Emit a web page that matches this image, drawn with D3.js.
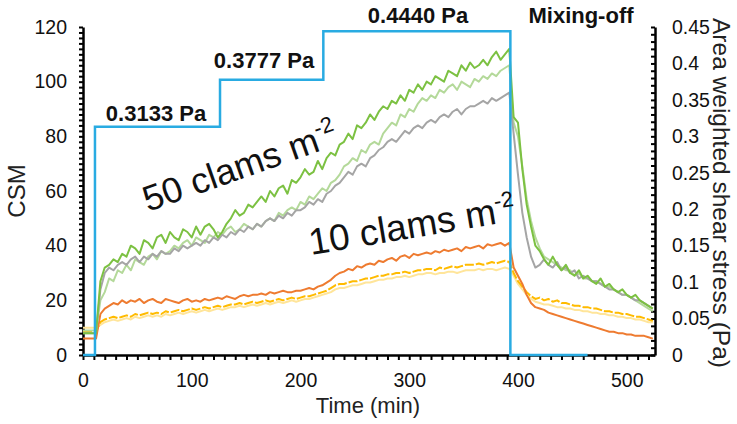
<!DOCTYPE html>
<html>
<head>
<meta charset="utf-8">
<script src="https://d3js.org/d3.v7.min.js"></script>
<style>
    body { margin: 0; background: #fff; }
    text { font-family: "Liberation Sans", Arial, sans-serif; }
</style>
</head>
<body>
<script>
//
// DATA: time (min), CSM series, shear steps
const TIME = [
    0, 4, 8, 12, 16, 20, 24, 28, 32, 36,
    40, 44, 48, 52, 56, 60, 64, 68, 72, 76,
    80, 84, 88, 92, 96, 100, 104, 108, 112, 116,
    120, 124, 128, 132, 136, 140, 144, 148, 152, 156,
    160, 164, 168, 172, 176, 180, 184, 188, 192, 196,
    200, 204, 208, 212, 216, 220, 224, 228, 232, 236,
    240, 244, 248, 252, 256, 260, 264, 268, 272, 276,
    280, 284, 288, 292, 296, 300, 304, 308, 312, 316,
    320, 324, 328, 332, 336, 340, 344, 348, 352, 356,
    360, 364, 368, 372, 376, 380, 384, 388, 392, 396,
    400, 404, 408, 412, 416, 420, 424, 428, 432, 436,
    440, 444, 448, 452, 456, 460, 464, 468, 472, 476,
    480, 484, 488, 492, 496, 500, 504, 508, 512, 516,
    520, 524
];
const CSM_50_A = [
    8, 8, 8, 8, 27, 32, 33, 35, 34, 37,
    36, 40, 39, 37, 42, 41, 39, 43, 44, 41,
    45, 43, 42, 46, 45, 43, 47, 44, 47, 48,
    46, 43, 45, 48, 50, 53, 51, 52, 55, 54,
    56, 58, 56, 60, 58, 61, 62, 59, 64, 63,
    65, 68, 66, 67, 71, 68, 72, 74, 73, 77,
    78, 81, 79, 84, 83, 85, 88, 86, 89, 91,
    90, 93, 92, 95, 93, 97, 96, 99, 97, 100,
    99, 102, 101, 100, 104, 103, 102, 106, 104, 107,
    105, 106, 108, 106, 109, 111, 108, 110, 112, 87,
    85, 68, 55, 47, 40, 38, 35, 33, 36, 33,
    31, 33, 30, 29, 31, 28, 29, 27, 26, 28,
    25, 26, 24, 23, 24, 22, 21, 22, 20, 19,
    18, 17
];
const CSM_50_B = [
    9, 9, 9, 9, 20, 23, 28, 27, 31, 30,
    33, 31, 35, 34, 33, 36, 37, 35, 38, 37,
    38, 40, 39, 41, 42, 40, 43, 42, 41, 44,
    43, 45, 44, 46, 47, 45, 46, 48, 47, 46,
    48, 47, 49, 50, 49, 52, 51, 53, 54, 53,
    56, 55, 58, 57, 59, 61, 60, 63, 64, 66,
    69, 70, 72, 71, 75, 74, 77, 78, 77, 81,
    83, 85, 84, 88, 87, 90, 89, 92, 94, 93,
    95, 94, 97, 96, 98, 99, 97, 100, 99, 98,
    101, 100, 102, 101, 103, 102, 104, 105, 106, 85,
    80, 69, 57, 49, 43, 39, 36, 35, 34, 33,
    32, 31, 31, 29, 30, 28, 28, 27, 27, 26,
    25, 25, 24, 23, 22, 22, 21, 20, 19, 18,
    17, 16
];
const CSM_50_C = [
    8, 8, 8, 8, 24, 30, 32, 31, 33, 34,
    33, 35, 36, 34, 36, 35, 37, 36, 38, 37,
    37, 39, 38, 40, 39, 40, 41, 40, 42, 41,
    43, 42, 44, 43, 45, 44, 46, 45, 47, 46,
    48, 47, 49, 50, 49, 51, 50, 52, 51, 53,
    53, 54, 56, 55, 57, 56, 59, 60, 62, 63,
    65, 67, 66, 69, 70, 69, 72, 73, 75, 76,
    78, 79, 78, 80, 82, 81, 83, 84, 83, 85,
    86, 85, 87, 88, 87, 89, 90, 88, 90, 91,
    91, 92, 93, 92, 94, 93, 94, 95, 96, 81,
    66, 52, 43, 36, 32, 33, 35, 33, 32, 34,
    31, 32, 30, 31, 28, 29, 28, 27, 27, 26,
    25, 24, 24, 23, 22, 22, 21, 20, 20, 19,
    18, 17
];
const CSM_10_A = [
    6, 6, 6, 6, 15, 17, 18, 19, 18.5, 20,
    19, 20, 19.5, 20.5, 19, 20, 20.5, 19.5, 19, 20.5,
    20, 19.5, 19, 20, 20.5, 19.5, 20, 19.5, 20.5, 20,
    20.5, 21, 20.5, 21.5, 21, 20.5, 21.5, 22, 21.5, 22,
    22, 22.5, 22, 23, 22.5, 23, 23.5, 23, 23, 23.5,
    23.5, 24, 24.5, 24, 25, 25.5, 26.5, 27.5, 29, 30,
    30.5, 31.5, 31, 32.5, 32, 33, 33.5, 33, 34.5, 34,
    35, 35.5, 34.5, 36, 36.5, 35.5, 37, 36.5, 37, 37.5,
    37, 38, 37.5, 38.5, 38, 38.5, 39, 38, 39.5, 39,
    39.5, 40, 39, 40.5, 40, 40.5, 41, 40, 41, 32,
    29, 26, 22, 19, 17.5, 17, 16.5, 15.5, 15, 14.5,
    14, 13.5, 13, 12.5, 12, 11.5, 11, 10.5, 10, 9.5,
    9, 8.5, 8.5, 8, 8, 7.5, 7.5, 7, 7, 7,
    6.5, 6
];
const CSM_10_B = [
    8.5, 8.5, 8.5, 8.5, 12, 13, 13.5, 14, 13.5, 14,
    14.5, 14, 15, 14.5, 15, 15.5, 15, 15.5, 15, 16,
    15.5, 16, 16.5, 16, 16.5, 17, 16.5, 17, 17.5, 17,
    17.5, 18, 17.5, 18, 18.5, 18.5, 19, 18.5, 19, 19.5,
    19, 19.5, 20, 19.5, 20, 20.5, 20, 20.5, 21, 20.5,
    21, 21.5, 21.5, 22, 22.5, 23, 23.5, 24.5, 25.5, 26,
    26, 26.5, 27, 27, 27.5, 28, 28, 28.5, 29, 29,
    29.5, 29.5, 30, 30, 30.5, 30, 30.5, 31, 31, 31.5,
    31.5, 31, 32, 31.5, 32, 32.5, 32, 32.5, 33, 33,
    33, 33.5, 33, 33.5, 34, 33.5, 34, 34.5, 34, 30,
    27, 25, 23, 21.5, 20.5, 21, 20, 20.5, 19.5, 20,
    19, 19, 18.5, 18, 18, 17.5, 17.5, 17, 17, 16.5,
    16, 16, 15.5, 15.5, 15, 15, 14.5, 14, 14, 13.5,
    13, 12.5
];
const CSM_10_C = [
    10, 10, 10, 10, 11, 12, 12.5, 13, 12.5, 13,
    13.5, 13, 14, 13.5, 14, 14.5, 14, 14.5, 14, 15,
    14.5, 15, 15.5, 15, 15.5, 16, 15.5, 16, 16.5, 16,
    16.5, 17, 16.5, 17, 17.5, 17.5, 18, 17.5, 18, 18.5,
    18, 18.5, 19, 18.5, 19, 19.5, 19, 19.5, 20, 19.5,
    20, 20.5, 20.5, 21, 21.5, 22, 22.5, 23, 24, 24.5,
    24.5, 25, 25.5, 25.5, 26, 26.5, 26.5, 27, 27.5, 27.5,
    28, 28, 28.5, 28.5, 29, 28.5, 29, 29.5, 29.5, 30,
    30, 29.5, 30, 30, 30.5, 30.5, 30, 30.5, 31, 31,
    31, 31.5, 31, 31.5, 31.5, 31, 31.5, 32, 31.5, 29,
    26, 24, 22, 20.5, 19.5, 19, 18.5, 18.5, 18, 17.5,
    17.5, 17, 17, 16.5, 16.5, 16, 16, 15.5, 15.5, 15,
    15, 14.5, 14.5, 14, 14, 13.5, 13.5, 13, 13, 12.5,
    12, 12
];
const SHEAR_TIME = [0, 11, 126, 221, 393, 464];
const SHEAR_PA = [0, 0.3133, 0.3777, 0.4440, 0, 0];
const SHEAR_LABELS = ['0.3133 Pa', '0.3777 Pa', '0.4440 Pa', 'Mixing-off'];
const CSM_TICKS = [0, 20, 40, 60, 80, 100, 120];
const TIME_TICKS = [0, 100, 200, 300, 400, 500];
const PA_TICKS = ['0', '0.05', '0.1', '0.15', '0.2', '0.25', '0.3', '0.35', '0.4', '0.45'];

window.addEventListener('load', function () {
    //
    // SIZE
    const WIDTH = 737;
    const HEIGHT = 424;
    const LEFT = 83, RIGHT = 655, TOP = 27, BOTTOM = 355;

    let svg = d3.select('body').append('svg')
        .attr('width', WIDTH)
        .attr('height', HEIGHT);

    //
    // SCALES
    let x = d3.scaleLinear().domain([0, 526]).range([LEFT, RIGHT]);
    let y = d3.scaleLinear().domain([0, 120]).range([BOTTOM, TOP]);
    let y2 = d3.scaleLinear().domain([0, 0.45]).range([BOTTOM, TOP]);

    //
    // AXES
    function styleAxis(g) {
        g.select('.domain').attr('stroke', '#000').attr('stroke-width', 2.5);
        g.selectAll('.tick line').attr('stroke', '#000').attr('stroke-width', 2);
        g.selectAll('.tick text').attr('fill', '#111').style('font-size', '19.5px');
    }

    svg.append('g')
        .attr('transform', 'translate(' + LEFT + ',0)')
        .call(d3.axisLeft(y)
            .tickValues(d3.range(0, 121, 2))
            .tickSizeInner(4).tickSizeOuter(0).tickPadding(12)
            .tickFormat(function (d) { return CSM_TICKS.includes(d) ? d : ''; }))
        .call(styleAxis);

    svg.append('g')
        .attr('transform', 'translate(0,' + BOTTOM + ')')
        .call(d3.axisBottom(x)
            .tickValues(d3.range(0, 521, 10))
            .tickSizeInner(5).tickSizeOuter(0).tickPadding(13)
            .tickFormat(function (d) { return TIME_TICKS.includes(d) ? d : ''; }))
        .call(styleAxis);

    svg.append('g')
        .attr('transform', 'translate(' + RIGHT + ',0)')
        .call(d3.axisRight(y2)
            .tickValues(d3.range(0, 46).map(function (i) { return i / 100; }))
            .tickSizeInner(-4).tickSizeOuter(0).tickPadding(17)
            .tickFormat(function (d) {
                let s = String(+d.toFixed(2));
                return PA_TICKS.includes(s) ? s : '';
            }))
        .call(styleAxis);

    //
    // AXIS TITLES
    svg.append('text')
        .attr('transform', 'translate(25,191) rotate(-90)')
        .attr('text-anchor', 'middle')
        .style('font-size', '24px').attr('fill', '#222')
        .text('CSM');
    svg.append('text')
        .attr('transform', 'translate(713,193) rotate(90)')
        .attr('text-anchor', 'middle')
        .style('font-size', '24.5px').attr('fill', '#222')
        .text('Area weighted shear stress (Pa)');
    svg.append('text')
        .attr('x', 368).attr('y', 413)
        .attr('text-anchor', 'middle')
        .style('font-size', '22px').attr('fill', '#222')
        .text('Time (min)');

    //
    // CSM LINES
    let series = [
        { v: CSM_10_C, c: '#ffe59a', dash: null },
        { v: CSM_10_B, c: '#ffbb00', dash: '9,2' },
        { v: CSM_10_A, c: '#ee7b30', dash: null },
        { v: CSM_50_B, c: '#b4d99a', dash: null },
        { v: CSM_50_C, c: '#a5a5a5', dash: null },
        { v: CSM_50_A, c: '#7cc142', dash: null }
    ];
    let line = d3.line()
        .x(function (d, i) { return x(TIME[i]); })
        .y(function (d) { return y(d); });

    svg.selectAll('path.csm')
        .data(series)
        .enter()
        .append('path')
        .classed('csm', true)
        .attr('d', function (s) { return line(s.v); })
        .attr('fill', 'none')
        .attr('stroke', function (s) { return s.c; })
        .attr('stroke-width', 2)
        .attr('stroke-linejoin', 'round')
        .attr('stroke-dasharray', function (s) { return s.dash; });

    //
    // SHEAR STEP LINE
    let step = d3.line()
        .curve(d3.curveStepAfter)
        .x(function (d, i) { return x(SHEAR_TIME[i]); })
        .y(function (d) { return y2(d); });

    svg.append('path')
        .attr('d', step(SHEAR_PA))
        .attr('fill', 'none')
        .attr('stroke', '#29abe2')
        .attr('stroke-width', 2.5);

    //
    // STEP LABELS
    let labelPos = [[156, 121], [264, 68], [418, 23], [581, 23]];
    svg.selectAll('text.step')
        .data(SHEAR_LABELS)
        .enter()
        .append('text')
        .classed('step', true)
        .attr('x', function (d, i) { return labelPos[i][0]; })
        .attr('y', function (d, i) { return labelPos[i][1]; })
        .attr('text-anchor', 'middle')
        .style('font-size', '22px').style('font-weight', 'bold')
        .attr('fill', '#111')
        .text(function (d) { return d; });

    //
    // DENSITY LABELS
    function density(label, px, py, angle, size) {
        let t = svg.append('text')
            .attr('transform', 'translate(' + px + ',' + py + ') rotate(' + angle + ')')
            .style('font-size', size + 'px').attr('fill', '#111');
        t.append('tspan').text(label);
        t.append('tspan').attr('dy', -15).style('font-size', '22px').text('-2');
    }
    density('50 clams m', 148, 212, -19.5, 36);
    density('10 clams m', 311, 255, -9.5, 37);
}, false);
</script>
</body>
</html>
